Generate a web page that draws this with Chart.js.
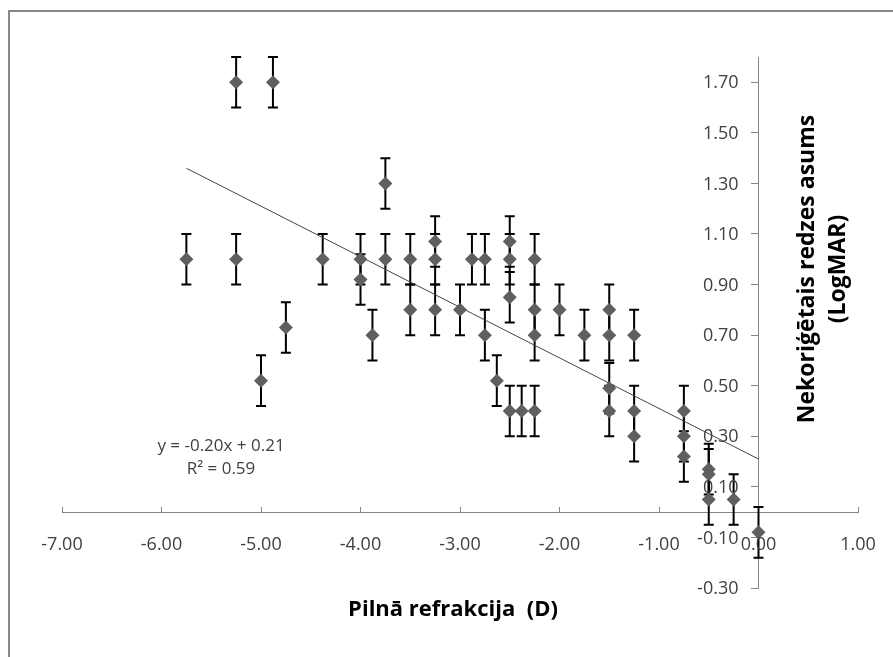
<!DOCTYPE html>
<html>
<head>
<meta charset="utf-8">
<script src="https://cdn.jsdelivr.net/npm/chart.js@4"></script>
<style>
  html, body { margin: 0; padding: 0; background: #fff; overflow: hidden; }
  #frame { position: absolute; left: 8px; top: 10px; width: 900px; height: 700px; border: 2px solid #878787; }
  #chart { position: absolute; left: 0; top: 0; }
</style>
</head>
<body>
<div id="frame"></div>
<canvas id="chart" width="893" height="657"></canvas>
<script>
// Full refraction (D) vs uncorrected visual acuity (LogMAR)
const refraction = [
  -5.75, -5.25, -5.25, -4.88, -5.00, -4.75, -4.38, -4.00, -4.00, -3.88,
  -3.75, -3.75, -3.50, -3.50, -3.25, -3.25, -3.25, -3.00, -2.88, -2.75,
  -2.75, -2.63, -2.50, -2.50, -2.50, -2.50, -2.38, -2.25, -2.25, -2.25,
  -2.25, -2.00, -1.75, -1.50, -1.50, -1.50, -1.50, -1.25, -1.25, -1.25,
  -0.75, -0.75, -0.75, -0.50, -0.50, -0.50, -0.25, 0.00
];
const logmar = [
  1.00, 1.70, 1.00, 1.70, 0.52, 0.73, 1.00, 1.00, 0.92, 0.70,
  1.30, 1.00, 1.00, 0.80, 1.07, 1.00, 0.80, 0.80, 1.00, 1.00,
  0.70, 0.52, 1.07, 1.00, 0.85, 0.40, 0.40, 1.00, 0.80, 0.70,
  0.40, 0.80, 0.70, 0.80, 0.70, 0.49, 0.40, 0.70, 0.40, 0.30,
  0.40, 0.30, 0.22, 0.17, 0.15, 0.05, 0.05, -0.08
];
const errorSize = 0.1;

// linear trend, as printed on the chart
const trendSlope = -0.20;
const trendIntercept = 0.21;
const rSquared = 0.59;

const xTicks = [-7, -6, -5, -4, -3, -2, -1, 0, 1];
const yTicks = [-0.3, -0.1, 0.1, 0.3, 0.5, 0.7, 0.9, 1.1, 1.3, 1.5, 1.7];

const xTitle = 'Pilnā refrakcija  (D)';
const yTitle = ['Nekoriģētais redzes asums', '(LogMAR)'];

const points = refraction.map((x, i) => ({ x: x, y: logmar[i] }));
const trendX = [Math.min(...refraction), Math.max(...refraction)];
const trendPoints = trendX.map(x => ({ x: x, y: trendSlope * x + trendIntercept }));

const axisColor = '#868686';
const labelColor = '#404040';
const tickFont = '18px "Open Sans"';

// vertical error bars with caps, drawn under the markers
const errorBars = {
  id: 'errorBars',
  beforeDatasetsDraw(chart) {
    const { ctx, scales: { x, y } } = chart;
    ctx.save();
    ctx.strokeStyle = '#000';
    ctx.lineWidth = 2;
    points.forEach(p => {
      const px = x.getPixelForValue(p.x);
      const top = y.getPixelForValue(p.y + errorSize);
      const bottom = y.getPixelForValue(p.y - errorSize);
      ctx.beginPath();
      ctx.moveTo(px, top); ctx.lineTo(px, bottom);
      ctx.moveTo(px - 5, top); ctx.lineTo(px + 5, top);
      ctx.moveTo(px - 5, bottom); ctx.lineTo(px + 5, bottom);
      ctx.stroke();
    });
    ctx.restore();
  }
};

// tick labels for the crossing axes: x labels under y = 0, y labels left of x = 0
const tickLabels = {
  id: 'tickLabels',
  afterDraw(chart) {
    const { ctx, scales: { x, y } } = chart;
    const axisX = x.getPixelForValue(0);
    const axisY = y.getPixelForValue(0);
    ctx.save();
    ctx.fillStyle = labelColor;
    ctx.font = tickFont;
    ctx.textBaseline = 'middle';
    ctx.textAlign = 'center';
    x.ticks.forEach(t => {
      ctx.fillText(t.value.toFixed(2), x.getPixelForValue(t.value), axisY + 33);
    });
    ctx.textAlign = 'right';
    y.ticks.forEach(t => {
      ctx.fillText(t.value.toFixed(2), axisX - 20, y.getPixelForValue(t.value) + 1);
    });
    ctx.restore();
  }
};

// axis titles and the trend equation
const chartText = {
  id: 'chartText',
  afterDraw(chart) {
    const ctx = chart.ctx;
    ctx.save();
    ctx.textAlign = 'center';
    ctx.textBaseline = 'middle';

    ctx.fillStyle = labelColor;
    ctx.font = '17px "Open Sans"';
    ctx.fillText('y = ' + trendSlope.toFixed(2) + 'x + ' + trendIntercept.toFixed(2), 221, 446);
    ctx.fillText('R² = ' + rSquared.toFixed(2), 221, 469);

    ctx.fillStyle = '#000';
    ctx.font = 'bold 22px "Open Sans"';
    ctx.fillText(xTitle, 453, 610);

    ctx.font = 'bold 23px "Open Sans"';
    ctx.translate(822, 269);
    ctx.rotate(-Math.PI / 2);
    ctx.fillText(yTitle[0], 0, -15);
    ctx.fillText(yTitle[1], 0, 16);
    ctx.restore();
  }
};

new Chart(document.getElementById('chart'), {
  type: 'scatter',
  data: {
    datasets: [
      {
        data: points,
        pointStyle: 'rectRot',
        pointRadius: 7,
        pointBackgroundColor: '#5f5f5f',
        pointBorderWidth: 0,
        showLine: false
      },
      {
        type: 'line',
        data: trendPoints,
        borderColor: '#444',
        borderWidth: 1,
        pointRadius: 0,
        fill: false
      }
    ]
  },
  options: {
    responsive: false,
    animation: false,
    events: [],
    layout: { padding: { left: 62, right: 35, top: 57, bottom: 69 } },
    plugins: { legend: { display: false }, tooltip: { enabled: false } },
    scales: {
      x: {
        type: 'linear',
        min: -7,
        max: 1,
        position: { y: 0 },
        afterBuildTicks: s => { s.ticks = xTicks.map(v => ({ value: v })); },
        grid: { drawOnChartArea: false, tickLength: -6, color: axisColor },
        border: { color: axisColor },
        ticks: { display: false }
      },
      y: {
        type: 'linear',
        min: -0.3,
        max: 1.8,
        position: { x: 0 },
        afterBuildTicks: s => { s.ticks = yTicks.map(v => ({ value: v })); },
        grid: { drawOnChartArea: false, tickLength: 7, color: axisColor },
        border: { color: axisColor },
        ticks: { display: false }
      }
    }
  },
  plugins: [errorBars, tickLabels, chartText]
});
</script>
</body>
</html>
